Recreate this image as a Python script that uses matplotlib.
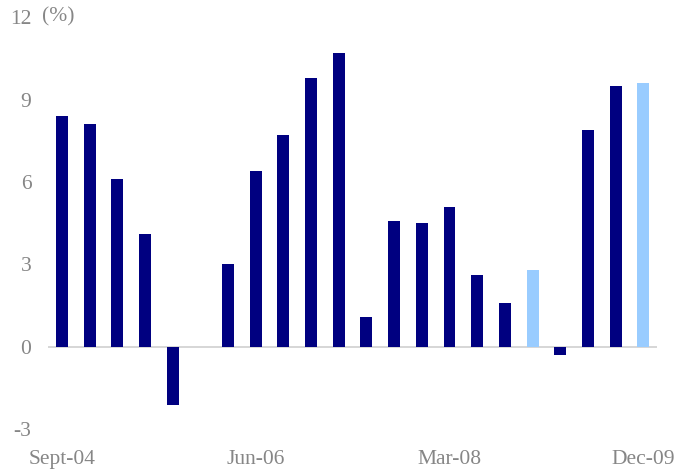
#!/usr/bin/env python3
import numpy as np
import matplotlib
matplotlib.use("Agg")
import matplotlib.pyplot as plt

quarters = ["Sept-04", "Dec-04", "Mar-05", "Jun-05", "Sep-05", "Dec-05",
            "Mar-06", "Jun-06", "Sep-06", "Dec-06", "Mar-07", "Jun-07",
            "Sep-07", "Dec-07", "Mar-08", "Jun-08", "Sep-08", "Dec-08",
            "Mar-09", "Jun-09", "Sep-09", "Dec-09"]
growth = [8.4, 8.1, 6.1, 4.1, -2.1, np.nan,
          3.0, 6.4, 7.7, 9.8, 10.7, 1.1,
          4.6, 4.5, 5.1, 2.6, 1.6, 2.8,
          -0.3, 7.9, 9.5, 9.6]
# quarters shown in the lighter shade
highlight = ["Dec-08", "Dec-09"]
shown_labels = ["Sept-04", "Jun-06", "Mar-08", "Dec-09"]
yticks = [-3, 0, 3, 6, 9, 12]

dark = "#000080"
light = "#99ccff"
grey = "#868686"

plt.rcParams["font.family"] = ["Liberation Serif", "DejaVu Serif"]

fig = plt.figure(figsize=(6.91, 4.74), dpi=100)
ax = fig.add_axes([0.0695, 0.094, 0.8815, 0.870])

x = np.arange(len(quarters))
colors = [light if q in highlight else dark for q in quarters]
ax.bar(x, growth, width=0.43, color=colors, zorder=2)

ax.axhline(0, color="#d0d0d0", lw=1.2, zorder=1)

ax.set_xlim(-0.5, len(quarters) - 0.5)
ax.set_ylim(-3, 12)
ax.set_yticks(yticks)
ax.set_yticklabels([str(v) for v in yticks])

tick_pos = [quarters.index(q) for q in shown_labels]
ax.set_xticks(tick_pos)
ax.set_xticklabels(shown_labels)

ax.tick_params(axis="y", length=0, pad=12, labelsize=15.5, labelcolor=grey)
ax.tick_params(axis="x", length=0, pad=15, labelsize=15.5, labelcolor=grey)

for side in ["top", "right", "bottom", "left"]:
    ax.spines[side].set_visible(False)

ax.annotate("(%)", xy=(0, 1), xycoords="axes fraction",
            xytext=(-6, 0), textcoords="offset pixels",
            ha="left", va="center", fontsize=15.5, color=grey)

fig.savefig("out.png", dpi=100)
